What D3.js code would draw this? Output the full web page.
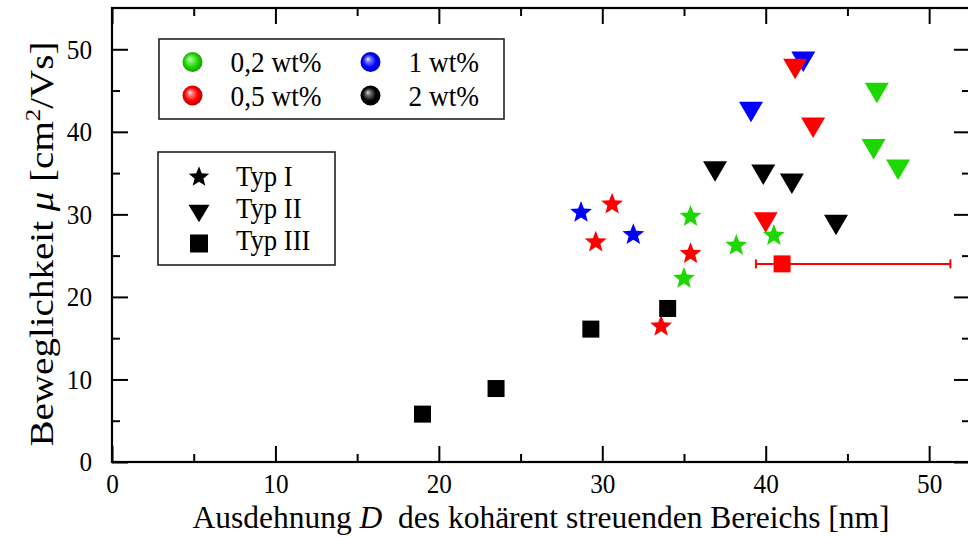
<!DOCTYPE html>
<html>
<head>
<meta charset="utf-8">
<script src="https://cdn.jsdelivr.net/npm/d3@7/dist/d3.min.js"></script>
<style>
  html, body { margin: 0; padding: 0; background: #fff; }
  svg { display: block; font-family: "Liberation Serif", "Times New Roman", serif; }
</style>
</head>
<body>
<svg id="chart" width="968" height="537"></svg>
<script>
// Mobility vs. coherent scattering domain size, by doping level and type
const concentrations = ["0,2 wt%", "0,5 wt%", "1 wt%", "2 wt%"];
const concColors = ["#1ed600", "#ff0000", "#0000ff", "#000000"];
const typeLabels = ["Typ I", "Typ II", "Typ III"];

// Typ I (stars): [D, mu]
const typI_02 = [[35.4, 29.8], [38.2, 26.3], [40.5, 27.5], [35.0, 22.3]];
const typI_05 = [[30.6, 31.3], [29.6, 26.7], [35.4, 25.3], [33.6, 16.5]];
const typI_1  = [[28.7, 30.3], [31.9, 27.6]];

// Typ II (triangles): [D, mu]
const typII_1  = [[42.3, 48.5], [39.1, 42.4]];
const typII_2  = [[36.9, 35.2], [39.85, 34.8], [41.6, 33.7], [44.3, 28.7]];
const typII_02 = [[46.8, 44.7], [46.6, 37.9], [48.1, 35.4]];
const typII_05 = [[41.8, 47.6], [42.9, 40.5], [40.0, 29.0]];

// Typ III (squares): [D, mu]
const typIII_2  = [[19.0, 5.8], [23.5, 8.9], [29.3, 16.1], [34.0, 18.6]];
const typIII_05 = [[41.0, 24.0]];
// horizontal error range of the 0,5 wt% Typ III point: [D, mu, Dlow, Dhigh]
const typIII_05_err = [[41.0, 24.0, 39.4, 51.3]];

const xTicks = [0, 10, 20, 30, 40, 50];
const yTicks = [0, 10, 20, 30, 40, 50];
const xMinor = [5, 15, 25, 35, 45];
const yMinor = [5, 15, 25, 35, 45];

const svg = d3.select("#chart");
const pLeft = 112, pRight = 970, pTop = 8, pBottom = 462;
const x = d3.scaleLinear().domain([0, 52.5]).range([pLeft, pRight]);
const y = d3.scaleLinear().domain([0, 55]).range([pBottom, pTop]);

// squeeze or stretch a text run along its baseline
function fitText(sel, factor) {
  sel.each(function () {
    const w = this.getComputedTextLength();
    d3.select(this).attr("textLength", w * factor).attr("lengthAdjust", "spacingAndGlyphs");
  });
}

// gradients for the sphere legend symbols
const defs = svg.append("defs");
const sphereStops = {
  "#1ed600": ["#ffffff", "#8cf57a", "#1ed600", "#139000"],
  "#ff0000": ["#ffffff", "#ff8a8a", "#ff0000", "#b00000"],
  "#0000ff": ["#ffffff", "#8a8aff", "#0000ff", "#0000a8"],
  "#000000": ["#e6e6e6", "#7a8080", "#000000", "#000000"]
};
concColors.forEach((c, i) => {
  const g = defs.append("radialGradient").attr("id", "sph" + i)
    .attr("cx", "0.5").attr("cy", "0.5").attr("r", "0.55")
    .attr("fx", "0.36").attr("fy", "0.34");
  const s = sphereStops[c];
  [[0, s[0]], [0.18, s[1]], [0.6, s[2]], [1, s[3]]].forEach(([o, col]) =>
    g.append("stop").attr("offset", o).attr("stop-color", col));
});

// marker shapes
const starPath = (R) => {
  const r = R * 0.43, pts = [];
  for (let k = 0; k < 10; k++) {
    const a = -Math.PI / 2 + k * Math.PI / 5;
    const rr = k % 2 === 0 ? R : r;
    pts.push([rr * Math.cos(a), rr * Math.sin(a) + R * 0.05]);
  }
  return "M" + pts.map(p => p.join(",")).join("L") + "Z";
};
const triPath = (w, h) => `M${-w/2},${-h/2}L${w/2},${-h/2}L0,${h/2}Z`;
const sqPath = (s) => `M${-s/2},${-s/2}h${s}v${s}h${-s}Z`;

// axes: ticks point inward on all four sides
const tickFont = 28;
function styleAxis(g) {
  g.select(".domain").remove();
  g.selectAll("line").attr("stroke", "#000").attr("stroke-width", 2);
  g.selectAll("text").attr("font-size", tickFont).attr("fill", "#000")
    .attr("font-family", "Liberation Serif, Times New Roman, serif");
}
const xAxisG = svg.append("g").attr("transform", `translate(0,${pBottom})`)
  .call(d3.axisBottom(x).tickValues(xTicks).tickSize(-16).tickPadding(11).tickFormat(d3.format("d")))
  .call(styleAxis);
svg.append("g").attr("transform", `translate(0,${pBottom})`)
  .call(d3.axisBottom(x).tickValues(xMinor).tickSize(-8).tickFormat(""))
  .call(styleAxis);
svg.append("g").attr("transform", `translate(0,${pTop})`)
  .call(d3.axisTop(x).tickValues(xTicks).tickSize(-16).tickFormat(""))
  .call(styleAxis);
svg.append("g").attr("transform", `translate(0,${pTop})`)
  .call(d3.axisTop(x).tickValues(xMinor).tickSize(-8).tickFormat(""))
  .call(styleAxis);
const yAxisG = svg.append("g").attr("transform", `translate(${pLeft},0)`)
  .call(d3.axisLeft(y).tickValues(yTicks).tickSize(-16).tickPadding(20).tickFormat(d3.format("d")))
  .call(styleAxis);
svg.append("g").attr("transform", `translate(${pLeft},0)`)
  .call(d3.axisLeft(y).tickValues(yMinor).tickSize(-8).tickFormat(""))
  .call(styleAxis);
svg.append("g").attr("transform", `translate(${pRight},0)`)
  .call(d3.axisRight(y).tickValues(yTicks).tickSize(-16).tickFormat(""))
  .call(styleAxis);
svg.append("g").attr("transform", `translate(${pRight},0)`)
  .call(d3.axisRight(y).tickValues(yMinor).tickSize(-8).tickFormat(""))
  .call(styleAxis);
fitText(xAxisG.selectAll("text"), 0.9);
fitText(yAxisG.selectAll("text"), 0.9);

// plot frame
svg.append("rect").attr("x", pLeft).attr("y", pTop)
  .attr("width", pRight - pLeft).attr("height", pBottom - pTop)
  .attr("fill", "none").attr("stroke", "#000").attr("stroke-width", 2.2);

// axis titles
const xl = svg.append("text").attr("x", 541).attr("y", 528)
  .attr("text-anchor", "middle").attr("font-size", 31.5).attr("fill", "#000")
  .attr("xml:space", "preserve")
  .text("Ausdehnung ");
xl.append("tspan").attr("font-style", "italic").text("D");
xl.append("tspan").text("  des kohärent streuenden Bereichs [nm]");

const yl = svg.append("text").attr("transform", "translate(53,244) rotate(-90)")
  .attr("text-anchor", "middle").attr("font-size", 33).attr("fill", "#000")
  .attr("textLength", 405).attr("lengthAdjust", "spacingAndGlyphs");
yl.append("tspan").text("Beweglichkeit ");
yl.append("tspan").attr("font-style", "italic").text("μ");
yl.append("tspan").text(" [cm");
yl.append("tspan").attr("font-size", 21).attr("dy", -13).text("2");
yl.append("tspan").attr("dy", 13).text("/Vs]");

// data marks
const plot = svg.append("g");
function drawSeries(data, path, color) {
  plot.append("g").selectAll("path").data(data).join("path")
    .attr("transform", d => `translate(${x(d[0])},${y(d[1])})`)
    .attr("d", path).attr("fill", color);
}
const tri = triPath(24, 20.5), star = starPath(11.5), sq = sqPath(17);

drawSeries(typII_1, tri, concColors[2]);
drawSeries(typII_2, tri, concColors[3]);
drawSeries(typII_02, tri, concColors[0]);
drawSeries(typII_05, tri, concColors[1]);

drawSeries(typI_1, star, concColors[2]);
drawSeries(typI_05, star, concColors[1]);
drawSeries(typI_02, star, concColors[0]);

// error bar for the 0,5 wt% Typ III point
const eb = plot.append("g").selectAll("g").data(typIII_05_err).join("g")
  .attr("stroke", concColors[1]).attr("stroke-width", 2);
eb.append("line").attr("x1", d => x(d[2])).attr("x2", d => x(d[3]))
  .attr("y1", d => y(d[1])).attr("y2", d => y(d[1]));
eb.append("line").attr("x1", d => x(d[2])).attr("x2", d => x(d[2]))
  .attr("y1", d => y(d[1]) - 4.5).attr("y2", d => y(d[1]) + 4.5);
eb.append("line").attr("x1", d => x(d[3])).attr("x2", d => x(d[3]))
  .attr("y1", d => y(d[1]) - 4.5).attr("y2", d => y(d[1]) + 4.5);

drawSeries(typIII_2, sq, concColors[3]);
drawSeries(typIII_05, sq, concColors[1]);

// legend: concentrations (spheres)
const leg1 = svg.append("g");
leg1.append("rect").attr("x", 159).attr("y", 39).attr("width", 345).attr("height", 80)
  .attr("fill", "#fff").attr("stroke", "#222").attr("stroke-width", 1.6);
const legPos = [[192.5, 62], [192.5, 95.5], [370.5, 62], [370.5, 95.5]];
concentrations.forEach((label, ci) => {
  const [cx, cy] = legPos[ci];
  leg1.append("circle").attr("cx", cx).attr("cy", cy).attr("r", 10)
    .attr("fill", `url(#sph${ci})`);
  leg1.append("text").attr("x", cx + 38).attr("y", cy + 10)
    .attr("font-size", 30).attr("fill", "#000").text(label);
});
fitText(leg1.selectAll("text"), 0.91);

// legend: types (shapes)
const leg2 = svg.append("g");
leg2.append("rect").attr("x", 158).attr("y", 152).attr("width", 177).attr("height", 113)
  .attr("fill", "#fff").attr("stroke", "#222").attr("stroke-width", 1.6);
const typeShapes = [starPath(10.8), triPath(21, 17.5), sqPath(18)];
const typeY = [176.5, 213.5, 243.5];
const typeBase = [186, 218, 250];
typeLabels.forEach((t, i) => {
  leg2.append("path").attr("transform", `translate(199,${typeY[i]})`)
    .attr("d", typeShapes[i]).attr("fill", "#000");
  leg2.append("text").attr("x", 236).attr("y", typeBase[i])
    .attr("font-size", 29).attr("fill", "#000").text(t);
});
fitText(leg2.selectAll("text"), 0.92);
</script>
</body>
</html>
